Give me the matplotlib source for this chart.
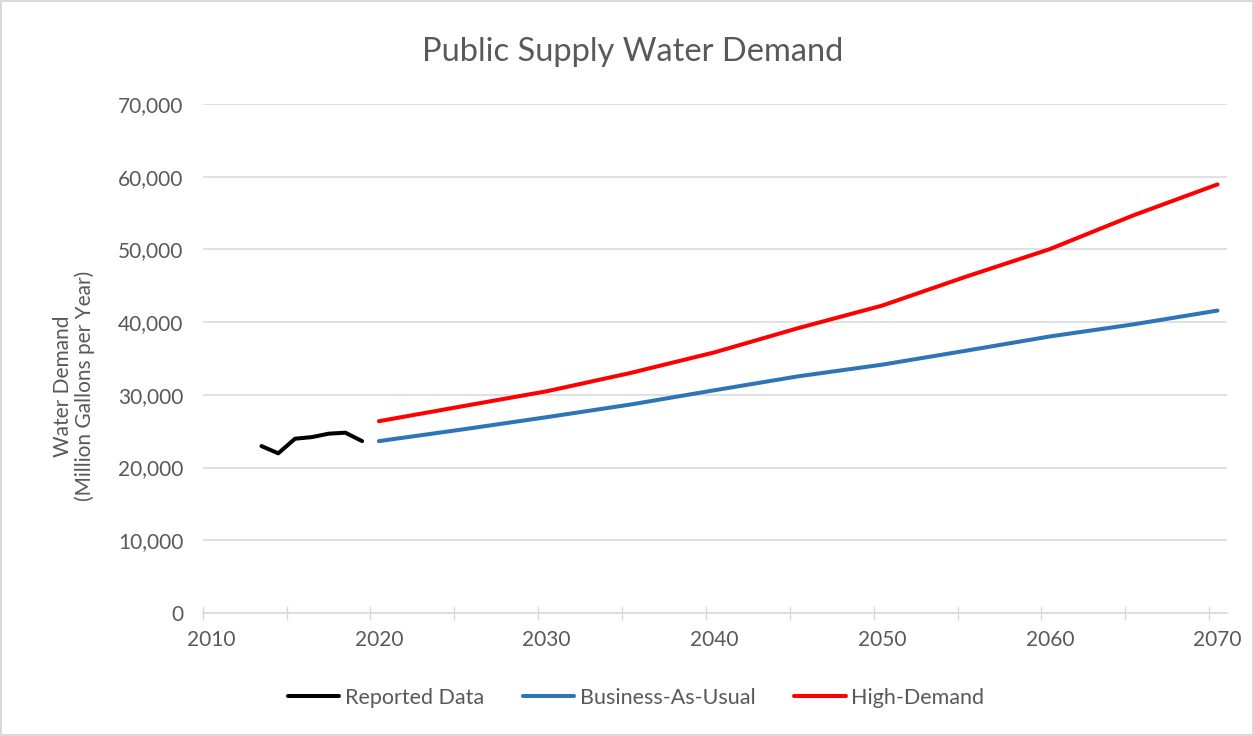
import numpy as np
import matplotlib
matplotlib.use("Agg")
import matplotlib.pyplot as plt

# reported public supply demand (million gallons per year)
reported_years = [2013, 2014, 2015, 2016, 2017, 2018, 2019]
reported = [22960, 21960, 23970, 24190, 24660, 24800, 23640]

# projections
proj_years = [2020, 2025, 2030, 2035, 2040, 2045, 2050, 2055, 2060, 2065, 2070]
business_as_usual = [23640, 25250, 26930, 28670, 30630, 32550, 34150, 36070, 38030, 39700, 41590]
high_demand = [26380, 28440, 30490, 33010, 35840, 39180, 42270, 46250, 50040, 54700, 58940]

label_years = [2010, 2020, 2030, 2040, 2050, 2060, 2070]
y_ticks = [0, 10000, 20000, 30000, 40000, 50000, 60000, 70000]

plt.rcParams['font.family'] = ['Lato', 'DejaVu Sans']
gray = '#595959'
grid_c = '#D9D9D9'

fig = plt.figure(figsize=(12.54, 7.36), dpi=100)
fig.patch.set_edgecolor(grid_c)
fig.patch.set_linewidth(1.5)
ax = fig.add_axes([0.1617, 0.1671, 0.8168, 0.6916])

# excel date axis puts each year's point in the middle of the year
off = 0.5
ax.plot(np.array(reported_years) + off, reported, color='black', lw=2.9,
        solid_capstyle='round', label='Reported Data')
ax.plot(np.array(proj_years) + off, business_as_usual, color='#2E75B6', lw=2.9,
        solid_capstyle='round', label='Business-As-Usual')
ax.plot(np.array(proj_years) + off, high_demand, color='#FF0000', lw=2.9,
        solid_capstyle='round', label='High-Demand')

ax.set_xlim(2010, 2071.07)
ax.set_ylim(0, 70000)

ax.set_yticks(y_ticks, labels=[f'{v:,}' for v in y_ticks])
ax.set_xticks(np.arange(2010, 2071, 5), minor=True)
ax.set_xticks(np.array(label_years) + off, labels=[str(y) for y in label_years])
ax.tick_params(axis='x', which='major', length=0, pad=12, labelsize=15, labelcolor=gray)
ax.tick_params(axis='x', which='minor', direction='inout', length=10, width=1, color=grid_c)
ax.tick_params(axis='y', length=0, pad=14, labelsize=15, labelcolor=gray)

ax.grid(axis='y', color=grid_c, lw=1.1)
for s in ['top', 'right', 'left']:
    ax.spines[s].set_visible(False)
ax.spines['bottom'].set_color(grid_c)
ax.spines['bottom'].set_linewidth(1.1)
ax.set_axisbelow(True)

fig.text(0.5045, 0.93, 'Public Supply Water Demand', ha='center', va='center',
         fontsize=23.5, color=gray)
fig.text(0.059, 0.4755, 'Water Demand\n(Million Gallons per Year)', rotation=90,
         ha='center', va='center', multialignment='center', fontsize=15, color=gray,
         linespacing=1.05)

fig.legend(loc='center', bbox_to_anchor=(0.507, 0.052), ncol=3, frameon=False,
           fontsize=15.5, labelcolor=gray, handlelength=2.4, handletextpad=0.25,
           columnspacing=1.8)

fig.savefig('out.png', dpi=100)
